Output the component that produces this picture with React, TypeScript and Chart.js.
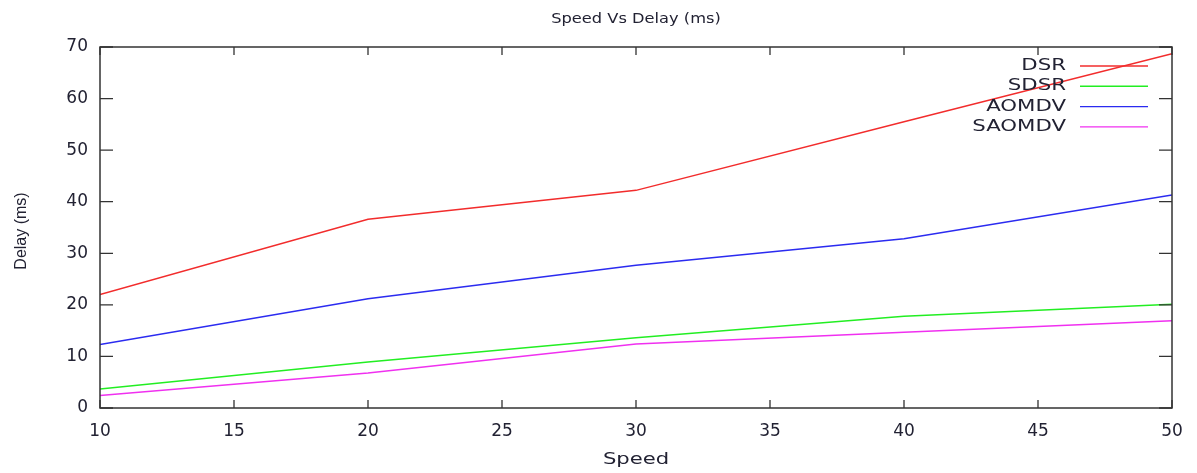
import React, { useEffect, useRef } from "react";
import { Chart, registerables } from "chart.js";

Chart.register(...registerables);

const speeds = [10, 20, 30, 40, 50];
const seriesNames = ["DSR", "SDSR", "AOMDV", "SAOMDV"];
const dsr = [22.0, 36.6, 42.2, 55.5, 68.7];
const sdsr = [3.7, 8.9, 13.6, 17.8, 20.1];
const aomdv = [12.3, 21.2, 27.7, 32.8, 41.3];
const saomdv = [2.4, 6.8, 12.4, 14.7, 16.9];
const seriesColors = ["#f22c2c", "#22ee22", "#2b2bf0", "#f030f0"];
const xTicks = [10, 15, 20, 25, 30, 35, 40, 45, 50];
const yTicks = [0, 10, 20, 30, 40, 50, 60, 70];
const titleText = "Speed Vs Delay (ms)";
const xTitle = "Speed";
const yTitle = "Delay (ms)";

const FONT = "'DejaVu Sans', Verdana, sans-serif";
const TEXT = "#222233";

function wideText(ctx: any, text: string, x: number, y: number, sx: number, align: string) {
  ctx.save();
  ctx.translate(x, y);
  ctx.scale(sx, 1);
  ctx.textAlign = align;
  ctx.fillText(text, 0, 0);
  ctx.restore();
}

const decorPlugin = {
  id: "decor",
  afterDraw(chart: any) {
    const ctx = chart.ctx;
    const a = chart.chartArea;
    const xs = chart.scales.x;
    const ys = chart.scales.y;
    ctx.save();
    // frame
    ctx.strokeStyle = "#333";
    ctx.lineWidth = 1.5;
    ctx.strokeRect(a.left, a.top, a.right - a.left, a.bottom - a.top);
    // ticks
    ctx.lineWidth = 1.3;
    ctx.beginPath();
    xTicks.forEach((v) => {
      const px = xs.getPixelForValue(v);
      ctx.moveTo(px, a.bottom);
      ctx.lineTo(px, a.bottom - 8);
      ctx.moveTo(px, a.top);
      ctx.lineTo(px, a.top + 8);
    });
    yTicks.forEach((v) => {
      const py = ys.getPixelForValue(v);
      ctx.moveTo(a.left, py);
      ctx.lineTo(a.left + 13, py);
      ctx.moveTo(a.right, py);
      ctx.lineTo(a.right - 13, py);
    });
    ctx.stroke();
    // title
    ctx.fillStyle = TEXT;
    ctx.textBaseline = "middle";
    ctx.font = `14px ${FONT}`;
    wideText(ctx, titleText, (a.left + a.right) / 2, 19, 1.16, "center");
    // x title
    ctx.font = `16px ${FONT}`;
    wideText(ctx, xTitle, (a.left + a.right) / 2, 460, 1.32, "center");
    // y title
    ctx.save();
    ctx.translate(22, 231);
    ctx.rotate(-Math.PI / 2);
    ctx.textAlign = "center";
    ctx.font = `16px 'Liberation Sans', sans-serif`;
    ctx.fillText(yTitle, 0, 0);
    ctx.restore();
    // legend
    ctx.font = `16px ${FONT}`;
    chart.data.datasets.forEach((ds: any, i: number) => {
      const y = 66 + i * 20.3;
      ctx.fillStyle = TEXT;
      wideText(ctx, ds.label, 1066, y, 1.33, "right");
      ctx.strokeStyle = ds.borderColor;
      ctx.lineWidth = 1.4;
      ctx.beginPath();
      ctx.moveTo(1080, y);
      ctx.lineTo(1148, y);
      ctx.stroke();
    });
    ctx.restore();
  },
};

export default function App() {
  const ref = useRef<HTMLCanvasElement | null>(null);
  useEffect(() => {
    document.body.style.margin = "0";
    document.body.style.background = "#fff";
    const all = [dsr, sdsr, aomdv, saomdv];
    const chart = new Chart(ref.current!, {
      type: "line",
      data: {
        datasets: all.map((arr, i) => ({
          label: seriesNames[i],
          data: speeds.map((s, j) => ({ x: s, y: arr[j] })),
          borderColor: seriesColors[i],
          backgroundColor: seriesColors[i],
          borderWidth: 1.5,
          pointRadius: 0,
          tension: 0,
          fill: false,
        })),
      },
      options: {
        responsive: false,
        animation: false,
        layout: { padding: { top: 47, right: 25, left: 0, bottom: 0 } },
        plugins: {
          legend: { display: false },
          title: { display: false },
          tooltip: { enabled: false },
        },
        scales: {
          x: {
            type: "linear",
            min: 10,
            max: 50,
            grid: { display: false, drawTicks: false },
            border: { display: false },
            afterFit: (s: any) => {
              s.height = 65;
            },
            afterBuildTicks: (s: any) => {
              s.ticks = xTicks.map((v) => ({ value: v }));
            },
            ticks: {
              color: TEXT,
              font: { family: FONT, size: 17 },
              padding: 13,
              maxRotation: 0,
              autoSkip: false,
            },
          },
          y: {
            type: "linear",
            min: 0,
            max: 70,
            grid: { display: false, drawTicks: false },
            border: { display: false },
            afterFit: (s: any) => {
              s.width = 100;
            },
            afterBuildTicks: (s: any) => {
              s.ticks = yTicks.map((v) => ({ value: v }));
            },
            ticks: {
              color: TEXT,
              font: { family: FONT, size: 17 },
              padding: 12,
              autoSkip: false,
            },
          },
        },
      },
      plugins: [decorPlugin],
    } as any);
    return () => chart.destroy();
  }, []);
  return <canvas ref={ref} width={1197} height={473} style={{ display: "block" }} />;
}
